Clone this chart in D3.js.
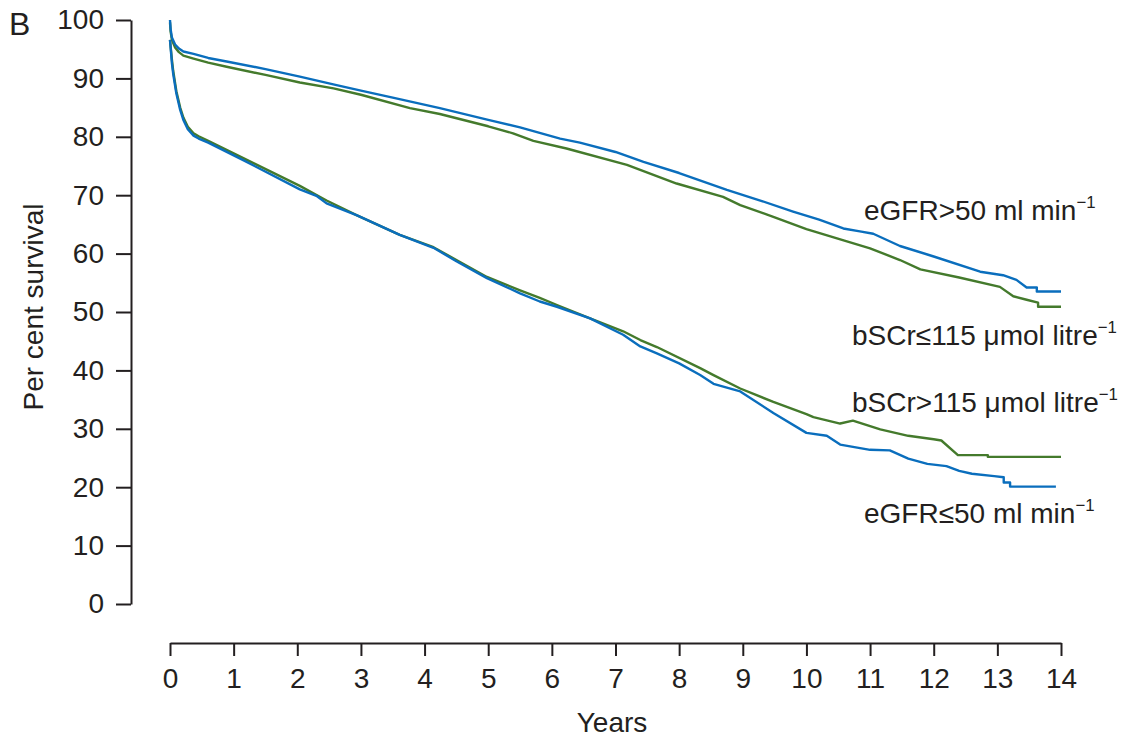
<!DOCTYPE html>
<html>
<head>
<meta charset="utf-8">
<script src="https://cdn.jsdelivr.net/npm/d3@7/dist/d3.min.js"></script>
<style>
  html, body { margin: 0; padding: 0; background: #fff; }
  svg { display: block; }
  text { font-family: "Liberation Sans", Arial, Helvetica, sans-serif; fill: #231f20; }
</style>
</head>
<body>
<svg id="chart" width="1135" height="738"></svg>
<script>
// ---- Data ----
const xTicks = [0,1,2,3,4,5,6,7,8,9,10,11,12,13,14];
const yTicks = [0,10,20,30,40,50,60,70,80,90,100];

// eGFR>50 ml min-1 (blue, upper)
const egfrHighT = [0,0.01,0.03,0.08,0.14,0.21,0.37,0.6,0.89,1.5,2.04,2.6,3.0,3.5,4.24,5.0,5.5,6.13,6.44,7.0,7.44,8.0,8.75,9.3,9.79,10.2,10.58,10.84,11.05,11.47,12.0,12.73,13.09,13.3,13.46,13.62,13.62,14.0];
const egfrHighV = [100,98.4,97.0,95.8,95.1,94.6,94.2,93.5,92.9,91.6,90.3,88.9,87.9,86.7,84.9,82.9,81.6,79.7,79.0,77.4,75.7,73.8,70.9,69.0,67.2,65.8,64.3,63.8,63.4,61.3,59.5,56.9,56.3,55.5,54.2,54.2,53.5,53.5];

// bSCr<=115 umol litre-1 (green, upper)
const scrLowT = [0,0.01,0.03,0.08,0.14,0.21,0.37,0.6,0.89,1.5,2.04,2.57,3.0,3.77,4.24,5.0,5.39,5.71,6.23,7.18,7.96,8.69,8.96,9.48,10.0,10.48,11.0,11.47,11.79,12.4,13.04,13.25,13.46,13.64,13.64,14.0];
const scrLowV = [99.6,98.0,96.6,95.3,94.5,93.9,93.4,92.7,92.0,90.6,89.3,88.3,87.2,84.9,83.9,81.8,80.6,79.3,78.0,75.2,72.0,69.7,68.3,66.3,64.2,62.6,60.9,58.9,57.3,55.9,54.3,52.7,52.1,51.6,50.9,50.9];

// bSCr>115 umol litre-1 (green, lower)
const scrHighT = [0,0.03,0.05,0.1,0.16,0.21,0.28,0.37,0.45,0.6,1.2,2.04,2.46,2.93,3.61,4.14,4.5,4.98,5.5,5.81,6.08,6.6,7.12,7.39,7.65,8.33,8.54,8.96,9.48,10.0,10.11,10.53,10.73,11.16,11.6,12.0,12.12,12.38,12.85,12.85,14.0];
const scrHighV = [96.6,93.2,91.3,87.8,85.0,83.3,81.7,80.6,80.1,79.3,76.1,71.6,69.1,66.6,63.2,61.1,58.9,56.0,53.7,52.4,51.2,48.9,46.7,45.2,44.0,40.4,39.2,36.9,34.6,32.5,32.0,30.9,31.4,29.9,28.8,28.2,28.0,25.5,25.5,25.2,25.2];

// eGFR<=50 ml min-1 (blue, lower)
const egfrLowT = [0,0.03,0.05,0.1,0.16,0.21,0.28,0.37,0.45,0.6,1.15,2.04,2.3,2.46,2.93,3.61,4.14,4.5,4.98,5.5,5.81,6.08,6.6,7.12,7.39,7.65,8.0,8.33,8.54,8.96,9.48,10.0,10.32,10.53,11.0,11.31,11.6,11.9,12.2,12.4,12.6,12.95,13.1,13.1,13.2,13.2,13.92];
const egfrLowV = [96.6,92.6,90.8,87.4,84.6,82.9,81.3,80.2,79.7,79.0,76.0,71.0,69.9,68.6,66.6,63.2,61.0,58.7,55.8,53.2,51.8,50.9,48.9,46.1,44.1,42.9,41.2,39.2,37.7,36.4,32.7,29.3,28.8,27.3,26.4,26.3,24.9,24.0,23.6,22.8,22.3,21.9,21.7,20.8,20.8,20.1,20.1];

const BLUE = "#0a6ebd", GREEN = "#447a2c";

// ---- Chart ----
const svg = d3.select("#chart");
const x = d3.scaleLinear().domain([0,14]).range([170,1061]);
const y = d3.scaleLinear().domain([0,100]).range([604,20]);

const FS = 28;

// Y axis
const yAxis = svg.append("g")
  .attr("transform","translate(131,0)")
  .call(d3.axisLeft(y).tickValues(yTicks).tickSize(15).tickSizeOuter(0).tickPadding(12));
// X axis
const xAxis = svg.append("g")
  .attr("transform","translate(0,643)")
  .call(d3.axisBottom(x).tickValues(xTicks).tickSize(13).tickSizeOuter(0).tickPadding(12));

[yAxis, xAxis].forEach(g => {
  g.selectAll("path.domain").attr("stroke","#231f20").attr("stroke-width",2);
  g.selectAll(".tick line").attr("stroke","#231f20").attr("stroke-width",2);
  g.selectAll(".tick text").attr("font-size",FS).attr("font-family","'Liberation Sans', Arial, sans-serif").attr("fill","#231f20");
});

// Lines
const line = d3.line().x(d => x(d[0])).y(d => y(d[1])).curve(d3.curveLinear);
const zip = (t,v) => t.map((d,i) => [d, v[i]]);
const series = [
  {data: zip(scrLowT, scrLowV), color: GREEN},
  {data: zip(scrHighT, scrHighV), color: GREEN},
  {data: zip(egfrHighT, egfrHighV), color: BLUE},
  {data: zip(egfrLowT, egfrLowV), color: BLUE}
];
svg.append("g").selectAll("path.s").data(series).join("path")
  .attr("class","s")
  .attr("d", d => line(d.data))
  .attr("fill","none")
  .attr("stroke", d => d.color)
  .attr("stroke-width", 2.4)
  .attr("stroke-linejoin","round");

// Series labels
const labels = [
  {pre: "eGFR>50 ml min", x: 864, y: 220},
  {pre: "bSCr≤115 μmol litre", x: 852, y: 345},
  {pre: "bSCr>115 μmol litre", x: 852, y: 412},
  {pre: "eGFR≤50 ml min", x: 864, y: 523}
];
labels.forEach(l => {
  const t = svg.append("text").attr("x", l.x).attr("y", l.y).attr("font-size", FS);
  t.append("tspan").text(l.pre);
  t.append("tspan").attr("font-size", FS*0.6).attr("dy", -FS*0.42).text("−1");
});

// Axis titles
svg.append("text").attr("x", 612).attr("y", 732).attr("text-anchor","middle").attr("font-size", FS).text("Years");
svg.append("text").attr("transform","translate(43,307) rotate(-90)").attr("text-anchor","middle").attr("font-size", FS).text("Per cent survival");

// Panel letter
svg.append("text").attr("x", 9).attr("y", 35).attr("font-size", 32).text("B");
</script>
</body>
</html>
